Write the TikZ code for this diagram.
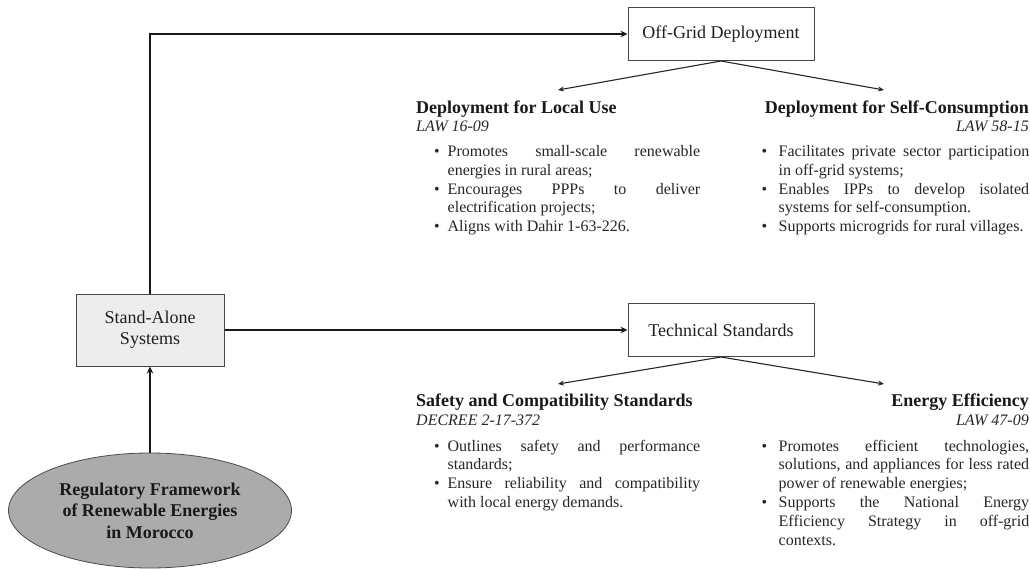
\documentclass[tikz,border=0pt]{standalone}
\usepackage{fontspec}
\setmainfont{Liberation Serif}
\usetikzlibrary{arrows.meta,shapes.geometric}
\hyphenpenalty=10000
\exhyphenpenalty=10000
\tolerance=10000
\hbadness=10000
\newcommand{\bitem}[2]{\par\noindent\hangindent=#1\hangafter=1\makebox[#1][l]{\textbullet}\strut#2\par}
\begin{document}
\begin{tikzpicture}[x=1pt,y=-1pt,
  box/.style={draw=black!72,line width=1pt,minimum width=186pt,minimum height=53pt,inner sep=0pt,font=\fontsize{18}{21}\selectfont,text=black!88},
  sabox/.style={box,fill=black!7,minimum width=148pt,minimum height=72pt,align=center},
  oval/.style={ellipse,draw=black!70,line width=0.8pt,fill=black!33,minimum width=283pt,minimum height=115pt,inner sep=0pt,align=center,font=\fontsize{18}{21.5}\selectfont\bfseries,text=black!90},
  main/.style={line width=2pt,draw=black!90,-{Stealth[length=7pt,width=6.5pt]}},
  sub/.style={line width=1.1pt,draw=black!85,-{Stealth[length=6pt,width=5pt]}},
  head/.style={inner sep=0pt,font=\fontsize{18}{21}\selectfont\bfseries,text=black!90},
  law/.style={inner sep=0pt,font=\fontsize{16}{18.8}\selectfont\itshape,text=black!85},
  bul/.style={inner sep=0pt,anchor=north west,align=justify,font=\fontsize{16}{18.8}\selectfont,text=black!85}
]
\useasboundingbox (0,0) rectangle (1030,569);

% main nodes
\node[oval] (rf) at (150,510.5) {Regulatory Framework\\of Renewable Energies\\in Morocco};
\node[sabox] (sa) at (150,330) {Stand-Alone\\Systems};
\node[box] (og) at (721,34) {Off-Grid Deployment};
\node[box] (ts) at (721,330) {Technical Standards};

% main connectors
\draw[main] (rf.north) -- (sa.south);
\draw[main] (sa.north) |- (og.west);
\draw[main] (sa.east) -- (ts.west);

% arrow ends
\coordinate (a1) at (558,90);
\coordinate (a2) at (884,90);
\coordinate (a3) at (558,384);
\coordinate (a4) at (884,384);
\draw[sub] (og.south) -- (a1);
\draw[sub] (og.south) -- (a2);
\draw[sub] (ts.south) -- (a3);
\draw[sub] (ts.south) -- (a4);

% top-left column
\node[head,anchor=base west] (h1) at (416,113.3) {Deployment for Local Use};
\node[law,anchor=base west] (l1) at (416,131.7) {LAW 16-09};
\node[bul,text width=266pt] (b1) at (434,137.5) {%
\bitem{13.5pt}{Promotes small-scale renewable\linebreak energies in rural areas;}%
\bitem{13.5pt}{Encourages PPPs to deliver\linebreak electrification projects;}%
\bitem{13.5pt}{Aligns with Dahir 1-63-226.}};

% top-right column
\node[head,anchor=base east] (h2) at (1029,113.3) {Deployment for Self-Consumption};
\node[law,anchor=base east] (l2) at (1029,131.7) {LAW 58-15};
\node[bul,text width=267.5pt] (b2) at (761.5,137.5) {%
\bitem{17pt}{Facilitates private sector participation\linebreak in off-grid systems;}%
\bitem{17pt}{Enables IPPs to develop isolated\linebreak systems for self-consumption.}%
\bitem{17pt}{Supports microgrids for rural villages.}};

% bottom-left column
\node[head,anchor=base west] (h3) at (416,406.7) {Safety and Compatibility Standards};
\node[law,anchor=base west] (l3) at (416,425.7) {DECREE 2-17-372};
\node[bul,text width=266pt] (b3) at (434,432) {%
\bitem{13.5pt}{Outlines safety and performance\linebreak standards;}%
\bitem{13.5pt}{Ensure reliability and compatibility\linebreak with local energy demands.}};

% bottom-right column
\node[head,anchor=base east] (h4) at (1029,406.7) {Energy Efficiency};
\node[law,anchor=base east] (l4) at (1029,425.7) {LAW 47-09};
\node[bul,text width=267.5pt] (b4) at (761.5,432) {%
\bitem{17pt}{Promotes efficient technologies,\linebreak solutions, and appliances for less rated\linebreak power of renewable energies;}%
\bitem{17pt}{Supports the National Energy\linebreak Efficiency Strategy in off-grid\linebreak contexts.}};
\end{tikzpicture}
\end{document}
